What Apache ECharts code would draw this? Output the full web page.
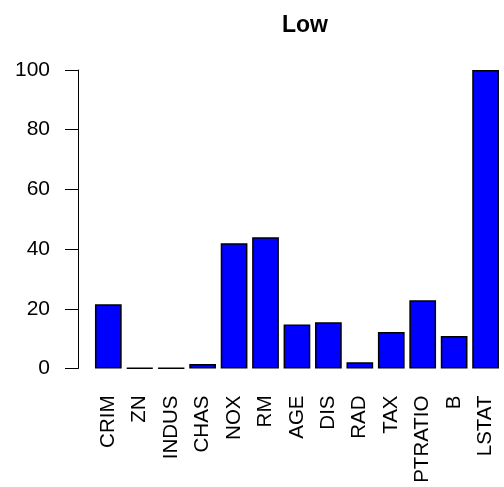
<!DOCTYPE html>
<html>
<head>
<meta charset="utf-8">
<script src="https://cdn.jsdelivr.net/npm/echarts@6/dist/echarts.min.js"></script>
<style>html,body{margin:0;padding:0;background:#fff}#c{width:504px;height:487px}</style>
</head>
<body>
<div id="c"></div>
<script>
var categories = ["CRIM","ZN","INDUS","CHAS","NOX","RM","AGE","DIS","RAD","TAX","PTRATIO","B","LSTAT"];
var values = [21.5, 0.2, 0.1, 1.5, 42.0, 44.0, 14.7, 15.5, 2.1, 12.2, 22.9, 10.9, 100];
var yTicks = [0, 20, 40, 60, 80, 100];
var titleText = "Low";

var chart = echarts.init(document.getElementById('c'), null, {renderer:'canvas'});
var font = 'Liberation Sans';
chart.setOption({
  animation: false,
  backgroundColor: '#ffffff',
  title: {
    text: titleText, left: 300, top: 9, textAlign: 'center',
    textStyle: {fontFamily: font, fontWeight: 'bold', fontSize: 23, color: '#000'}
  },
  grid: {left: 92.6, right: 2.7, top: 70, bottom: 118.5, containLabel: false, outerBoundsMode: 'none'},
  xAxis: {
    type: 'category', data: categories,
    axisLine: {show: false}, axisTick: {show: false},
    axisLabel: {rotate: 90, margin: 27, interval: 0, fontFamily: font, fontSize: 20.5, color: '#000'}
  },
  yAxis: {
    type: 'value', min: yTicks[0], max: yTicks[yTicks.length-1], interval: 20,
    offset: 14.6,
    splitLine: {show: false},
    axisLine: {show: true, lineStyle: {color: '#000', width: 1}},
    axisTick: {show: true, length: 13, lineStyle: {color: '#000', width: 1}},
    axisLabel: {margin: 28, fontFamily: font, fontSize: 21, color: '#000'}
  },
  series: [{
    type: 'bar', data: values, barCategoryGap: '15%',
    itemStyle: {color: '#0000ff', borderColor: '#000', borderWidth: 1.5}
  }]
});
</script>
</body>
</html>
